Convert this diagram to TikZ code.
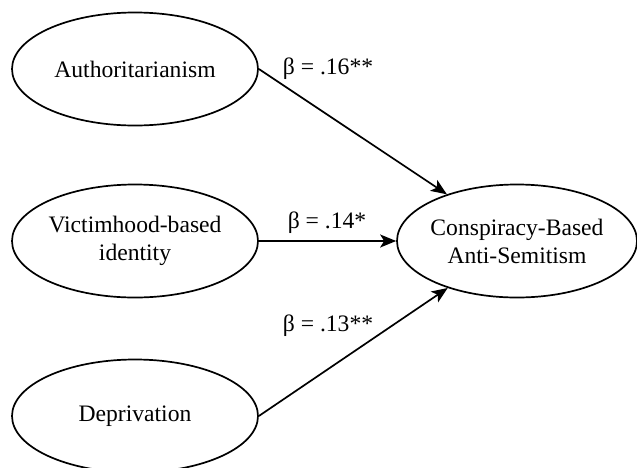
\documentclass[tikz,border=0pt]{standalone}
\usepackage{fontspec}
\setmainfont{Liberation Serif}
\usetikzlibrary{shapes.geometric,arrows.meta}

\begin{document}
\begin{tikzpicture}[x=0.5pt,y=-0.5pt,
  construct/.style = {shape=ellipse, draw, line width=0.85pt, align=center,
    minimum width=123pt, minimum height=56.5pt, inner sep=0pt,
    font=\fontsize{11.8pt}{14pt}\selectfont},
  path/.style = {line width=0.85pt, -{Stealth[length=8pt,width=6.5pt,inset=2pt]}},
  coef/.style = {font=\fontsize{11.8pt}{14pt}\selectfont}]

  \useasboundingbox (0,0) rectangle (637,467);

  \node[construct] (auth)  at (135,69)  {Authoritarianism};
  \node[construct] (vict)  at (135,241) {Victimhood-based \\ identity};
  \node[construct] (depr)  at (135,416) {Deprivation};
  \node[construct, minimum width=120pt, inner xsep=-4pt] (consp) at (517,241) {Conspiracy-Based \\ Anti-Semitism};

  \draw[path] (auth.east) -- (consp);
  \draw[path] (vict.east) -- (consp.west);
  \draw[path] (depr.east) -- (consp);

  \node[coef] (b1) at (328,69)  {β = .16**};
  \node[coef] (b2) at (327,223) {β = .14*};
  \node[coef] (b3) at (328,326) {β = .13**};
 \end{tikzpicture}
\end{document}
